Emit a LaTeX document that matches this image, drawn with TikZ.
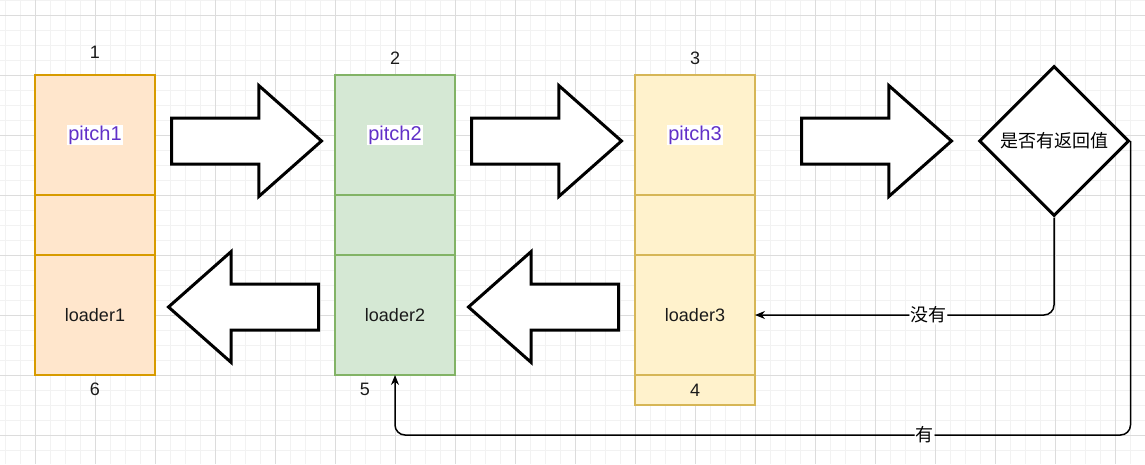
\documentclass[tikz,border=0pt]{standalone}
\usepackage{fontspec}
\setmainfont{Liberation Sans}
\newfontfamily\cjk{Noto Sans CJK SC}
\usetikzlibrary{positioning, shapes.geometric, shapes.arrows, arrows.meta}
\definecolor{orangefill}{HTML}{FFE6CC}
\definecolor{orangeline}{HTML}{D79B00}
\definecolor{greenfill}{HTML}{D5E8D4}
\definecolor{greenline}{HTML}{82B366}
\definecolor{yellowfill}{HTML}{FFF2CC}
\definecolor{yellowline}{HTML}{D6B656}
\definecolor{pitchtext}{RGB}{96,48,200}
\definecolor{textdark}{HTML}{1A1A1A}
\definecolor{gridminor}{HTML}{F2F2F2}
\definecolor{gridmajor}{HTML}{DCDCDC}
\newcommand{\labelfont}{\fontsize{18pt}{21pt}\selectfont}
\newcommand{\pitchfont}{\fontsize{20pt}{23pt}\selectfont}
\tikzstyle{cell} = [draw, rectangle, minimum width=120pt, inner sep=0pt, outer sep=0pt, line width=1.5pt, font=\labelfont, text=textdark]
\tikzstyle{tall} = [cell, minimum height=120pt]
\tikzstyle{short} = [cell, minimum height=60pt]
\tikzstyle{tiny} = [cell, minimum height=30pt]
\tikzstyle{col1} = [fill=orangefill, draw=orangeline]
\tikzstyle{col2} = [fill=greenfill, draw=greenline]
\tikzstyle{col3} = [fill=yellowfill, draw=yellowline]
\tikzstyle{pitch} = [fill=white, inner sep=1pt, font=\pitchfont, text=pitchtext]
\tikzstyle{num} = [inner sep=0pt, font=\labelfont, text=textdark]
\tikzstyle{rarrow} = [draw, single arrow, line width=3pt, fill=white, minimum height=150pt, inner xsep=0pt, inner ysep=21.5pt, single arrow head extend=32.5pt, single arrow tip angle=83, anchor=tail]
\tikzstyle{larrow} = [rarrow, shape border rotate=180]
\tikzstyle{decision} = [draw, diamond, line width=3pt, fill=white, minimum width=150pt, minimum height=150pt, inner sep=0pt, font=\cjk\labelfont]
\tikzstyle{conn} = [draw, line width=1.5pt, rounded corners=10pt, -{Stealth[length=10pt, width=8pt]}]
\tikzstyle{answer} = [fill=white, inner sep=1pt, font=\cjk\labelfont]

\begin{document}
\begin{tikzpicture}[x=1pt, y=-1pt, node distance=300pt]
	\useasboundingbox (0,0) rectangle (1145,464);
	% grid
	\foreach \x in {5,20,...,1145} \draw [gridminor, line width=1pt] (\x,0) -- (\x,464);
	\foreach \y in {0,15,...,464} \draw [gridminor, line width=1pt] (0,\y) -- (1145,\y);
	\foreach \x in {35,95,...,1115} \draw [gridmajor, line width=1pt] (\x,0) -- (\x,464);
	\foreach \y in {15,75,...,435} \draw [gridmajor, line width=1pt] (0,\y) -- (1145,\y);

	% columns
	\node [tall, col1] (p1) at (95,135) {};
	\node [short, col1, below=0pt of p1] (m1) {};
	\node [tall, col1, below=0pt of m1] (l1) {loader1};
	\node [tall, col2, right of=p1] (p2) {};
	\node [short, col2, below=0pt of p2] (m2) {};
	\node [tall, col2, below=0pt of m2] (l2) {loader2};
	\node [tall, col3, right of=p2] (p3) {};
	\node [short, col3, below=0pt of p3] (m3) {};
	\node [tall, col3, below=0pt of m3] (l3) {loader3};
	\node [tiny, col3, below=0pt of l3] (c4) {4};

	\node [pitch] (t1) at (p1) {pitch1};
	\node [pitch] (t2) at (p2) {pitch2};
	\node [pitch] (t3) at (p3) {pitch3};

	\node [num, above=16.5pt of p1] (n1) {1};
	\node [num, above=10.5pt of p2] (n2) {2};
	\node [num, above=10.5pt of p3] (n3) {3};
	\node [num, below=8pt of l2, xshift=-30pt] (n5) {5};
	\node [num, below=8pt of l1] (n6) {6};

	% block arrows
	\node [rarrow] (a1) at (170,141) {};
	\node [rarrow] (a2) at (470,141) {};
	\node [rarrow] (a3) at (800,141) {};
	\node [larrow] (a4) at (620,307) {};
	\node [larrow] (a5) at (320,307) {};

	\node [decision] (d) at (1054,141) {是否有返回值};

	\draw [conn] (d.south) |- node [answer, pos=0.71] (no) {没有} (l3.east);
	\coordinate (turn) at ([yshift=-60pt]l2.south);
	\draw [conn] (d.east) |- node [answer, pos=0.64] (yes) {有} (turn) -- (l2.south);
\end{tikzpicture}
\end{document}
